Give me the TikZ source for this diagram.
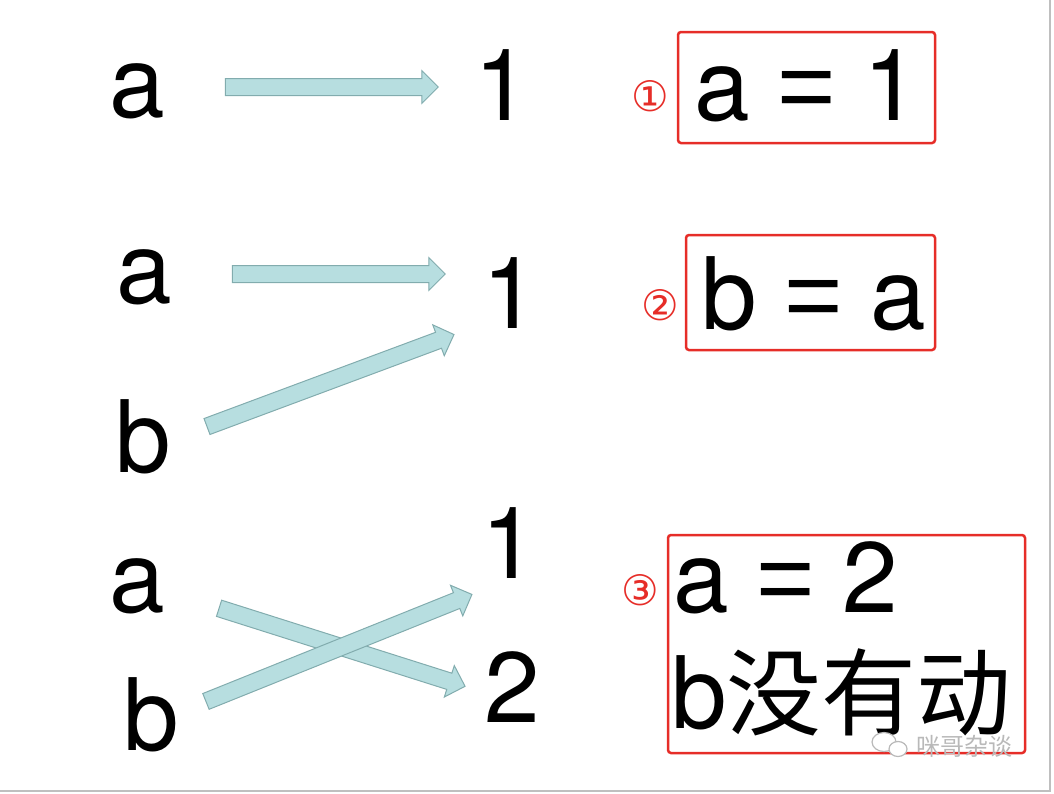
\documentclass[tikz,border=0pt]{standalone}
\usepackage{fontspec}
\setmainfont{TeX Gyre Heros}
\newfontfamily\eqfont{Liberation Sans}
\newfontfamily\cjkfont{Noto Sans CJK SC}
\newfontfamily\circfont{DejaVu Sans}
\usetikzlibrary{shapes.arrows,calc}
\definecolor{arrowfill}{RGB}{183,222,224}
\definecolor{arrowedge}{RGB}{130,172,174}
\definecolor{boxred}{RGB}{230,45,40}
\definecolor{markgray}{RGB}{185,185,185}
\newcommand{\eqsign}{{\eqfont =}}

\tikzset{
  var/.style={inner sep=0pt, anchor=base west, font=\fontsize{100}{110}\selectfont},
  redbox/.style={draw=boxred, line width=2.5pt, rounded corners=3pt},
  circnum/.style={inner sep=0pt, text=boxred, font=\circfont\fontsize{42}{46}\selectfont},
  fatarrow/.style={single arrow, draw=arrowedge, fill=arrowfill, line width=1pt,
    inner xsep=0pt, inner ysep=8pt, single arrow head extend=8pt,
    single arrow head indent=0pt},
}
\newcommand{\fatlink}[2]{%
  \path let \p1=($(#2)-(#1)$), \n1={veclen(\x1,\y1)}, \n2={atan2(\y1,\x1)} in
    node[fatarrow, minimum height=\n1, rotate=\n2] at ($(#1)!0.5!(#2)$) {};}

\begin{document}
\begin{tikzpicture}[x=1pt,y=-1pt]
  \useasboundingbox (0,0) rectangle (1054,793);
  % step 1
  \node[var] (a1) at (109,117) {a};
  \node[var] (one1) at (474,120) {1};
  \coordinate (a1s) at (221,87);
  \coordinate (a1e) at (434,87);
  \fatlink{a1s}{a1e}
  \node[redbox, minimum width=257pt, minimum height=111pt] (box1) at (806.5,87.5) {};
  \node[var] (eq1) at (694,120) {a \eqsign{} 1};
  \node[circnum] (c1) at (650,96) {①};
  % step 2
  \node[var] (a2) at (116,303) {a};
  \node[var] (b2) at (115,472) {b};
  \node[var] (one2) at (482,328) {1};
  \coordinate (a2s) at (228,274);
  \coordinate (a2e) at (441,274);
  \coordinate (b2s) at (203,428);
  \coordinate (b2e) at (450,336);
  \fatlink{a2s}{a2e}
  \fatlink{b2s}{b2e}
  \node[redbox, minimum width=249pt, minimum height=115pt] (box2) at (810.5,292.5) {};
  \node[var] (eq2) at (701,329) {b \eqsign{} a};
  \node[circnum] (c2) at (660,305) {②};
  % step 3
  \node[var] (a3) at (109,612) {a};
  \node[var] (b3) at (123,750) {b};
  \node[var] (one3) at (481,578) {1};
  \node[var] (two3) at (484,722) {2};
  \coordinate (a3s) at (215,607);
  \coordinate (a3e) at (461,685);
  \coordinate (b3s) at (202,703);
  \coordinate (b3e) at (468,596);
  \fatlink{a3s}{a3e}
  \fatlink{b3s}{b3e}
  \node[redbox, minimum width=357pt, minimum height=218pt] (box3) at (846.5,644) {};
  \node[var] (eq3) at (673,612) {a \eqsign{} 2};
  \node[var] (eq4) at (671,728) {b{\cjkfont\fontsize{95}{100}\selectfont 没有动}};
  \node[circnum] (c3) at (640,590) {③};
  % watermark
  \draw[markgray, fill=white, line width=1.2pt] (884,742) ellipse [x radius=12, y radius=9.5];
  \draw[markgray, fill=white, line width=1.2pt] (898,749) ellipse [x radius=9, y radius=7.5];
  \node[font=\cjkfont\fontsize{24}{26}\selectfont, text=markgray, inner sep=0pt, anchor=west]
    (mark) at (916,746) {咪哥杂谈};
  % slide edge
  \draw[gray!50, line width=1.5pt] (1050,0) -- (1050,791) -- (0,791);
\end{tikzpicture}
\end{document}
